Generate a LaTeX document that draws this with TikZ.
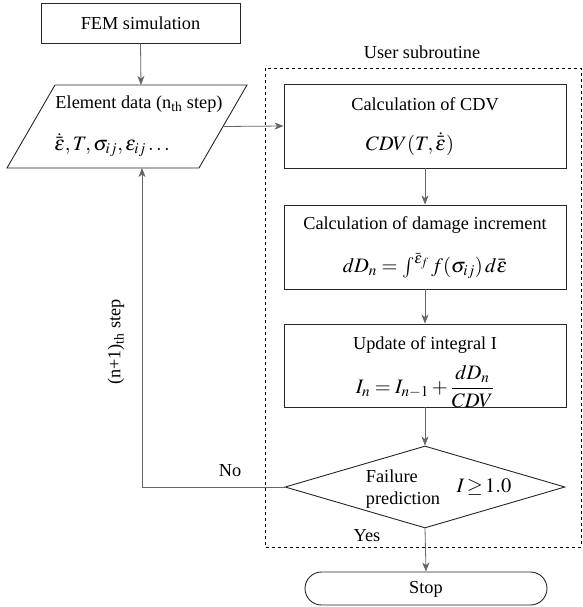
\documentclass[tikz,border=0pt]{standalone}
\usepackage{mathptmx}
\usepackage{fontspec}
\setmainfont{Liberation Serif}
\usetikzlibrary{arrows.meta,shapes.geometric}
\tikzset{
  box/.style={draw=black!85, line width=0.9pt, rectangle, inner sep=0pt},
  conn/.style={draw=black!60, line width=0.8pt},
  arr/.style={conn, -{Stealth[length=9pt,width=7pt,inset=2.5pt]}},
  txt/.style={inner sep=0pt, font=\fontsize{18.3}{22}\selectfont},
  mth/.style={inner sep=0pt, font=\fontsize{20.5}{24}\selectfont},
}
\begin{document}
\begin{tikzpicture}[x=1pt,y=-1pt]
\useasboundingbox (0,0) rectangle (582,607);
% dashed region
\draw[dashed, line width=0.8pt] (265,68) rectangle (581,547);
\node[txt] (usr) at (422,52) {User subroutine};
% FEM box
\node[box, minimum width=199pt, minimum height=40pt] (fem) at (140.5,23) {};
\node[txt] (femt) at (140.5,23) {FEM simulation};
% parallelogram
\coordinate (pTL) at (55,85);
\coordinate (pTR) at (247,85);
\coordinate (pBR) at (199,168);
\coordinate (pBL) at (7,168);
\draw[draw=black!85, line width=0.9pt] (pTL) -- (pTR) -- (pBR) -- (pBL) -- cycle;
\coordinate (pTop) at (141,85);
\coordinate (pRight) at (223,126.5);
\coordinate (pBot) at (142,168);
\node[txt] (el1) at (139,104) {Element data (n\textsubscript{th} step)};
\node[mth] (el2) at (112,145) {$\dot{\bar{\varepsilon}}, T, \sigma_{ij}, \varepsilon_{ij}\ldots$};
% CDV box
\node[box, minimum width=282pt, minimum height=84pt] (cdv) at (425,126) {};
\node[txt] (cdv1) at (425,104) {Calculation of CDV};
\node[mth] (cdv2) at (410,144) {$CDV(T,\dot{\bar{\varepsilon}})$};
% damage box
\node[box, minimum width=282pt, minimum height=84pt] (dmg) at (425,247) {};
\node[txt] (dmg1) at (425,225) {Calculation of damage increment};
\node[mth] (dmg2) at (425,266) {$dD_n=\int^{\bar{\varepsilon}_f} f(\sigma_{ij})\,d\bar{\varepsilon}$};
% update box
\node[box, minimum width=282pt, minimum height=83pt] (upd) at (425,365.5) {};
\node[txt] (upd1) at (425,345) {Update of integral I};
\node[mth] (upd2) at (425,387) {$\displaystyle I_n=I_{n-1}+\frac{dD_n}{CDV}$};
% diamond
\node[draw=black!85, line width=0.9pt, diamond, minimum width=280pt, minimum height=82pt, inner sep=0pt] (dia) at (425,487) {};
\node[txt, align=left] (dia1) at (403,489) {Failure\\prediction};
\node[mth] (dia2) at (484,487) {$I\!\geq\! 1.0$};
% stop
\node[box, rounded corners=16.5pt, minimum width=242pt, minimum height=33pt] (stop) at (426,588.5) {};
\node[txt] (stopt) at (426,589) {Stop};
% connectors
\draw[arr] (fem.south) -- (pTop);
\draw[arr] (pRight) -- (cdv.west);
\draw[arr] (cdv.south) -- (dmg.north);
\draw[arr] (dmg.south) -- (upd.north);
\draw[arr] (upd.south) -- (dia.north);
\draw[arr] (dia.south) -- (stop.north);
\coordinate (corner) at (142,487);
\draw[arr] (dia.west) -- (corner) -- (pBot);
\node[txt] (no) at (230,471) {No};
\node[txt] (yes) at (367,536) {Yes};
\node[txt, rotate=90] (step) at (116,342) {(n+1)\textsubscript{th} step};
\end{tikzpicture}
\end{document}
